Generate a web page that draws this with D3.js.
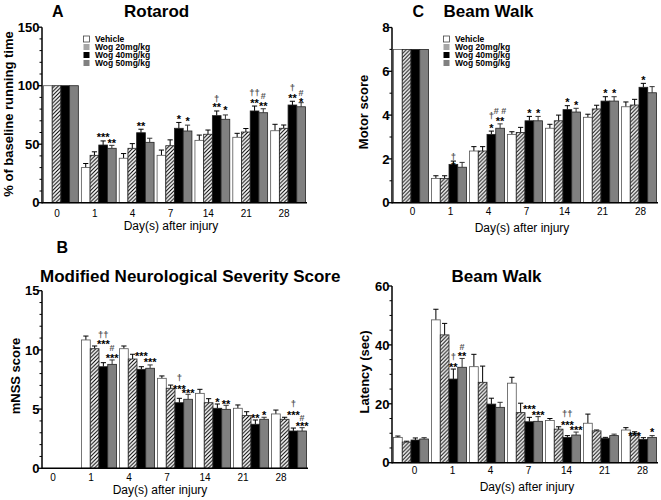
<!DOCTYPE html>
<html><head><meta charset="utf-8">
<script src="https://cdn.jsdelivr.net/npm/d3@7"></script>
<style>body{margin:0;background:#fff}svg{display:block}text{font-family:"Liberation Sans",Arial,sans-serif}</style>
</head><body>
<svg id="c" width="661" height="500"></svg>
<script>
// ---------- DATA ----------
const days = ["0","1","4","7","14","21","28"];
const groups = ["Vehicle","Wog 20mg/kg","Wog 40mg/kg","Wog 50mg/kg"];

// Rotarod (% of baseline running time); rows = groups, cols = days
const rotarodMeans = [
  [100, 30.0, 38.0, 40.5, 53.3, 55.9, 61.5],
  [100, 40.5, 46.5, 48.7, 58.5, 60.4, 63.6],
  [100, 49.3, 59.8, 63.6, 74.4, 78.4, 83.5],
  [100, 46.5, 51.6, 61.3, 71.3, 76.9, 82.0]
];
const rotarodErr = [
  [0, 3.5, 4.0, 4.5, 4.5, 3.4, 5.5],
  [0, 3.0, 4.0, 5.0, 3.6, 3.0, 2.8],
  [0, 3.5, 3.0, 5.0, 4.0, 4.2, 3.2],
  [0, 2.5, 3.5, 5.0, 3.7, 3.4, 3.5]
];
// [day, group index, label, value]
const rotarodMarks = [
  ["1",2,"***",57.9],["1",3,"**",52.7],
  ["4",2,"**",67.0],
  ["7",2,"*",73.5],["7",3,"*",72.1],
  ["14",2,"†",88.6],["14",2,"**",83.5],["14",3,"*",81.2],
  ["21",2,"††",93.5],["21",2,"**",87.2],["21",3,"#",91.2],["21",3,"**",84.4],
  ["28",2,"†",98.0],["28",2,"**",91.2],["28",3,"#",93.8],["28",3,"*",87.8]
];

// Beam walk motor score
const motorMeans = [
  [7, 1.11, 2.36, 3.12, 3.40, 3.90, 4.38],
  [7, 1.11, 2.36, 3.21, 3.74, 4.28, 4.46],
  [7, 1.75, 3.12, 3.74, 4.25, 4.64, 5.27],
  [7, 1.62, 3.40, 3.74, 4.14, 4.64, 5.02]
];
const motorErr = [
  [0, 0.12, 0.20, 0.12, 0.18, 0.14, 0.22],
  [0, 0.12, 0.20, 0.23, 0.26, 0.17, 0.26],
  [0, 0.15, 0.15, 0.20, 0.18, 0.20, 0.18],
  [0, 0.22, 0.20, 0.20, 0.17, 0.20, 0.28]
];
const motorMarks = [
  ["1",2,"†",2.10],["1",2,"*",1.77],
  ["4",2,"†",3.93],["4",2,"*",3.50],["4",3,"# #",4.19],["4",3,"**",3.85],
  ["7",2,"*",4.19],["7",3,"*",4.19],
  ["14",2,"*",4.69],["14",3,"*",4.57],
  ["21",2,"*",5.10],["21",3,"*",5.10],
  ["28",2,"*",5.72]
];

// mNSS score
const mnssMeans = [
  [0, 10.84, 10.10, 7.60, 6.33, 5.07, 4.59],
  [0, 10.10, 9.23, 6.76, 5.54, 4.45, 4.14],
  [0, 8.58, 8.36, 5.54, 5.07, 3.72, 3.15],
  [0, 8.78, 8.45, 5.83, 4.98, 4.14, 3.15]
];
const mnssErr = [
  [0, 0.33, 0.23, 0.20, 0.34, 0.28, 0.33],
  [0, 0.23, 0.40, 0.27, 0.34, 0.33, 0.17],
  [0, 0.34, 0.22, 0.37, 0.36, 0.36, 0.25],
  [0, 0.37, 0.28, 0.42, 0.34, 0.17, 0.28]
];
const mnssMarks = [
  ["1",2,"††",11.26],["1",2,"***",10.64],["1",3,"#",10.14],["1",3,"***",9.51],
  ["4",2,"***",9.63],["4",3,"***",9.15],
  ["7",2,"†",7.60],["7",2,"***",6.89],["7",3,"***",6.53],
  ["14",2,"*",5.77],["14",3,"**",5.62],
  ["21",2,"**",4.42],["21",3,"*",4.65],
  ["28",2,"†",5.43],["28",2,"***",4.70],["28",3,"#",4.31],["28",3,"***",3.74]
];

// Beam walk latency (sec)
const latencyMeans = [
  [8.6, 48.5, 32.6, 27.0, 14.3, 13.4, 11.1],
  [7.0, 43.4, 27.3, 17.0, 11.4, 10.8, 10.0],
  [7.7, 28.4, 19.9, 13.9, 8.6, 8.3, 7.9],
  [8.05, 32.4, 18.8, 14.05, 9.4, 9.2, 8.6]
];
const latencyErr = [
  [0.45, 3.6, 4.2, 2.0, 0.7, 3.1, 0.8],
  [0.3, 3.9, 5.5, 3.2, 0.8, 0.3, 0.5],
  [0.7, 3.4, 2.0, 1.5, 0.6, 0.3, 0.6],
  [0.45, 3.0, 1.7, 1.6, 1.0, 0.5, 0.6]
];
const latencyMarks = [
  ["1",2,"†",36.0],["1",2,"**",33.2],["1",3,"#",39.4],["1",3,"**",36.8],
  ["7",2,"***",19.0],["7",3,"***",17.0],
  ["14",2,"††",16.5],["14",2,"***",13.6],["14",3,"***",11.7],
  ["28",1,"***",9.7],["28",3,"*",11.1]
];

// ---------- DRAW ----------
const svg = d3.select("#c");
const defs = svg.append("defs");
const P = 3.8;
const pat = defs.append("pattern").attr("id","hatch").attr("patternUnits","userSpaceOnUse")
  .attr("width",P).attr("height",P);
pat.append("rect").attr("width",P).attr("height",P).attr("fill","#fff");
pat.append("path").attr("d",`M${-P/4},${P/4} L${P/4},${-P/4} M0,${P} L${P},0 M${P*0.75},${P*1.25} L${P*1.25},${P*0.75}`)
  .attr("stroke","#000").attr("stroke-width",1.05);

const fills = ["#fff","url(#hatch)","#000","#808080"];
const legendFills = ["#fff","#a6a6a6","#000","#808080"];

function drawPanel(p) {
  const g = svg.append("g");
  const x0 = d3.scaleBand().domain(days).range(p.xr).paddingInner(0.08).paddingOuter(0.04);
  const x1 = d3.scaleBand().domain(d3.range(groups.length)).range([0, x0.bandwidth()]);
  const y = d3.scaleLinear().domain(p.yd).range(p.yr);
  const bw = x1.bandwidth();

  // bars
  p.means.forEach((row, gi) => {
    row.forEach((v, di) => {
      if (v <= 0) return;
      const bx = x0(days[di]) + x1(gi);
      const e = p.errs[gi][di];
      if (e > 0) {
        const cx = bx + bw/2;
        const col = gi===3 ? "#333" : "#000";
        g.append("line").attr("x1",cx).attr("x2",cx).attr("y1",y(v)).attr("y2",y(v+e))
          .attr("stroke", col).attr("stroke-width",1);
        g.append("line").attr("x1",cx-2.6).attr("x2",cx+2.6).attr("y1",y(v+e)).attr("y2",y(v+e))
          .attr("stroke", col).attr("stroke-width",1);
      }
      g.append("rect").attr("x",bx).attr("y",y(v)).attr("width",bw).attr("height",y(0)-y(v))
        .attr("fill",fills[gi]).attr("stroke", gi===0 ? "#555" : "#222").attr("stroke-width",0.8);
    });
  });

  // annotations
  p.marks.forEach(([d, gi, t, v]) => {
    const isStar = t.includes("*");
    const isDag = t.includes("†");
    const fs = isStar ? 11 : (isDag ? 9.5 : 9);
    const off = isStar ? 0.56*fs : (isDag ? 0.3*fs : 0.36*fs);
    g.append("text").attr("x", x0(d) + x1(gi) + bw/2).attr("y", y(v) + off)
      .attr("text-anchor","middle").attr("font-size",fs).attr("font-weight","bold")
      .attr("fill", isStar ? "#000" : "#555").text(t);
  });

  // axes
  const ax = p.xr[0];
  g.append("line").attr("x1",ax).attr("x2",ax).attr("y1",y(p.yd[0])+0.7).attr("y2",y(p.yd[1]))
    .attr("stroke","#000").attr("stroke-width",1.5);
  g.append("line").attr("x1",ax).attr("x2",p.xr[1]).attr("y1",y(0)).attr("y2",y(0))
    .attr("stroke","#000").attr("stroke-width",1.5);
  d3.range(p.yd[0], p.yd[1] + 1e-9, p.minor).forEach(t => {
    const major = Math.abs(t / p.major - Math.round(t / p.major)) < 1e-6;
    g.append("line").attr("x1",ax).attr("x2",ax - (major ? 4 : 2.5)).attr("y1",y(t)).attr("y2",y(t))
      .attr("stroke","#000").attr("stroke-width", major ? 1.3 : 1);
    if (major) {
      g.append("text").attr("x",ax - 2.5).attr("y",y(t) + 4.7).attr("text-anchor","end")
        .attr("font-size",13).attr("font-weight","bold").text(d3.format("d")(t));
    }
  });
  days.forEach(d => {
    g.append("text").attr("x", x0(d) + x0.bandwidth()/2 + p.labelDx).attr("y", p.tickY)
      .attr("text-anchor","middle").attr("font-size",10).text(d);
  });
  g.append("text").attr("x", p.xtitleX).attr("y", p.xtitleY).attr("text-anchor","middle")
    .attr("font-size",12).text("Day(s) after injury");
  g.append("text").attr("transform",`translate(${p.ylabX},${p.ylabY}) rotate(-90)`)
    .attr("text-anchor","middle").attr("font-size",13).attr("font-weight","bold").text(p.ylabel);

  // titles
  if (p.letter) g.append("text").attr("x",p.letter[1]).attr("y",p.letter[2])
    .attr("font-size",16).attr("font-weight","bold").text(p.letter[0]);
  g.append("text").attr("x",p.title[1]).attr("y",p.title[2])
    .attr("font-size",p.titleSize||17).attr("font-weight","bold").text(p.title[0]);

  // legend
  if (p.legend) {
    groups.forEach((name, i) => {
      const ly = p.legend[1] + i*8;
      g.append("rect").attr("x",p.legend[0]).attr("y",ly-3).attr("width",6).attr("height",6)
        .attr("fill",legendFills[i]).attr("stroke", i===0 ? "#444" : "none").attr("stroke-width",0.8);
      g.append("text").attr("x",p.legend[0]+11.5).attr("y",ly+3).attr("font-size",8.5)
        .attr("font-weight","bold").text(name);
    });
  }
}

drawPanel({means: rotarodMeans, errs: rotarodErr, marks: rotarodMarks,
  xr:[42,307], yd:[0,150], yr:[202.7,27.2], major:50, minor:10,
  labelDx:-4, tickY:217, xtitleX:171, xtitleY:230,
  ylabel:"% of baseline running time", ylabX:13, ylabY:114,
  letter:["A",52,17], title:["Rotarod",124,17], legend:[83.5,39]});

drawPanel({means: motorMeans, errs: motorErr, marks: motorMarks,
  xr:[392,658], yd:[0,8], yr:[202.7,27.5], major:2, minor:1,
  labelDx:1.5, tickY:215, xtitleX:522, xtitleY:232,
  ylabel:"Motor score", ylabX:367.5, ylabY:112,
  letter:["C",412.5,17], title:["Beam Walk",443.5,17], legend:[443.5,39]});

drawPanel({means: mnssMeans, errs: mnssErr, marks: mnssMarks,
  xr:[42,308], yd:[0,15], yr:[468.3,290.7], major:5, minor:1,
  labelDx:-8, tickY:481, xtitleX:160, xtitleY:494,
  ylabel:"mNSS score", ylabX:19.5, ylabY:376,
  letter:["B",56.5,252.5], title:["Modified Neurological Severity Score",40,282], titleSize:17});

drawPanel({means: latencyMeans, errs: latencyErr, marks: latencyMarks,
  xr:[392,658], yd:[0,60], yr:[462.7,286], major:20, minor:5,
  labelDx:3.5, tickY:474, xtitleX:527, xtitleY:491,
  ylabel:"Latency (sec)", ylabX:368.5, ylabY:372,
  title:["Beam Walk",451.5,281.5]});
</script>
</body></html>
